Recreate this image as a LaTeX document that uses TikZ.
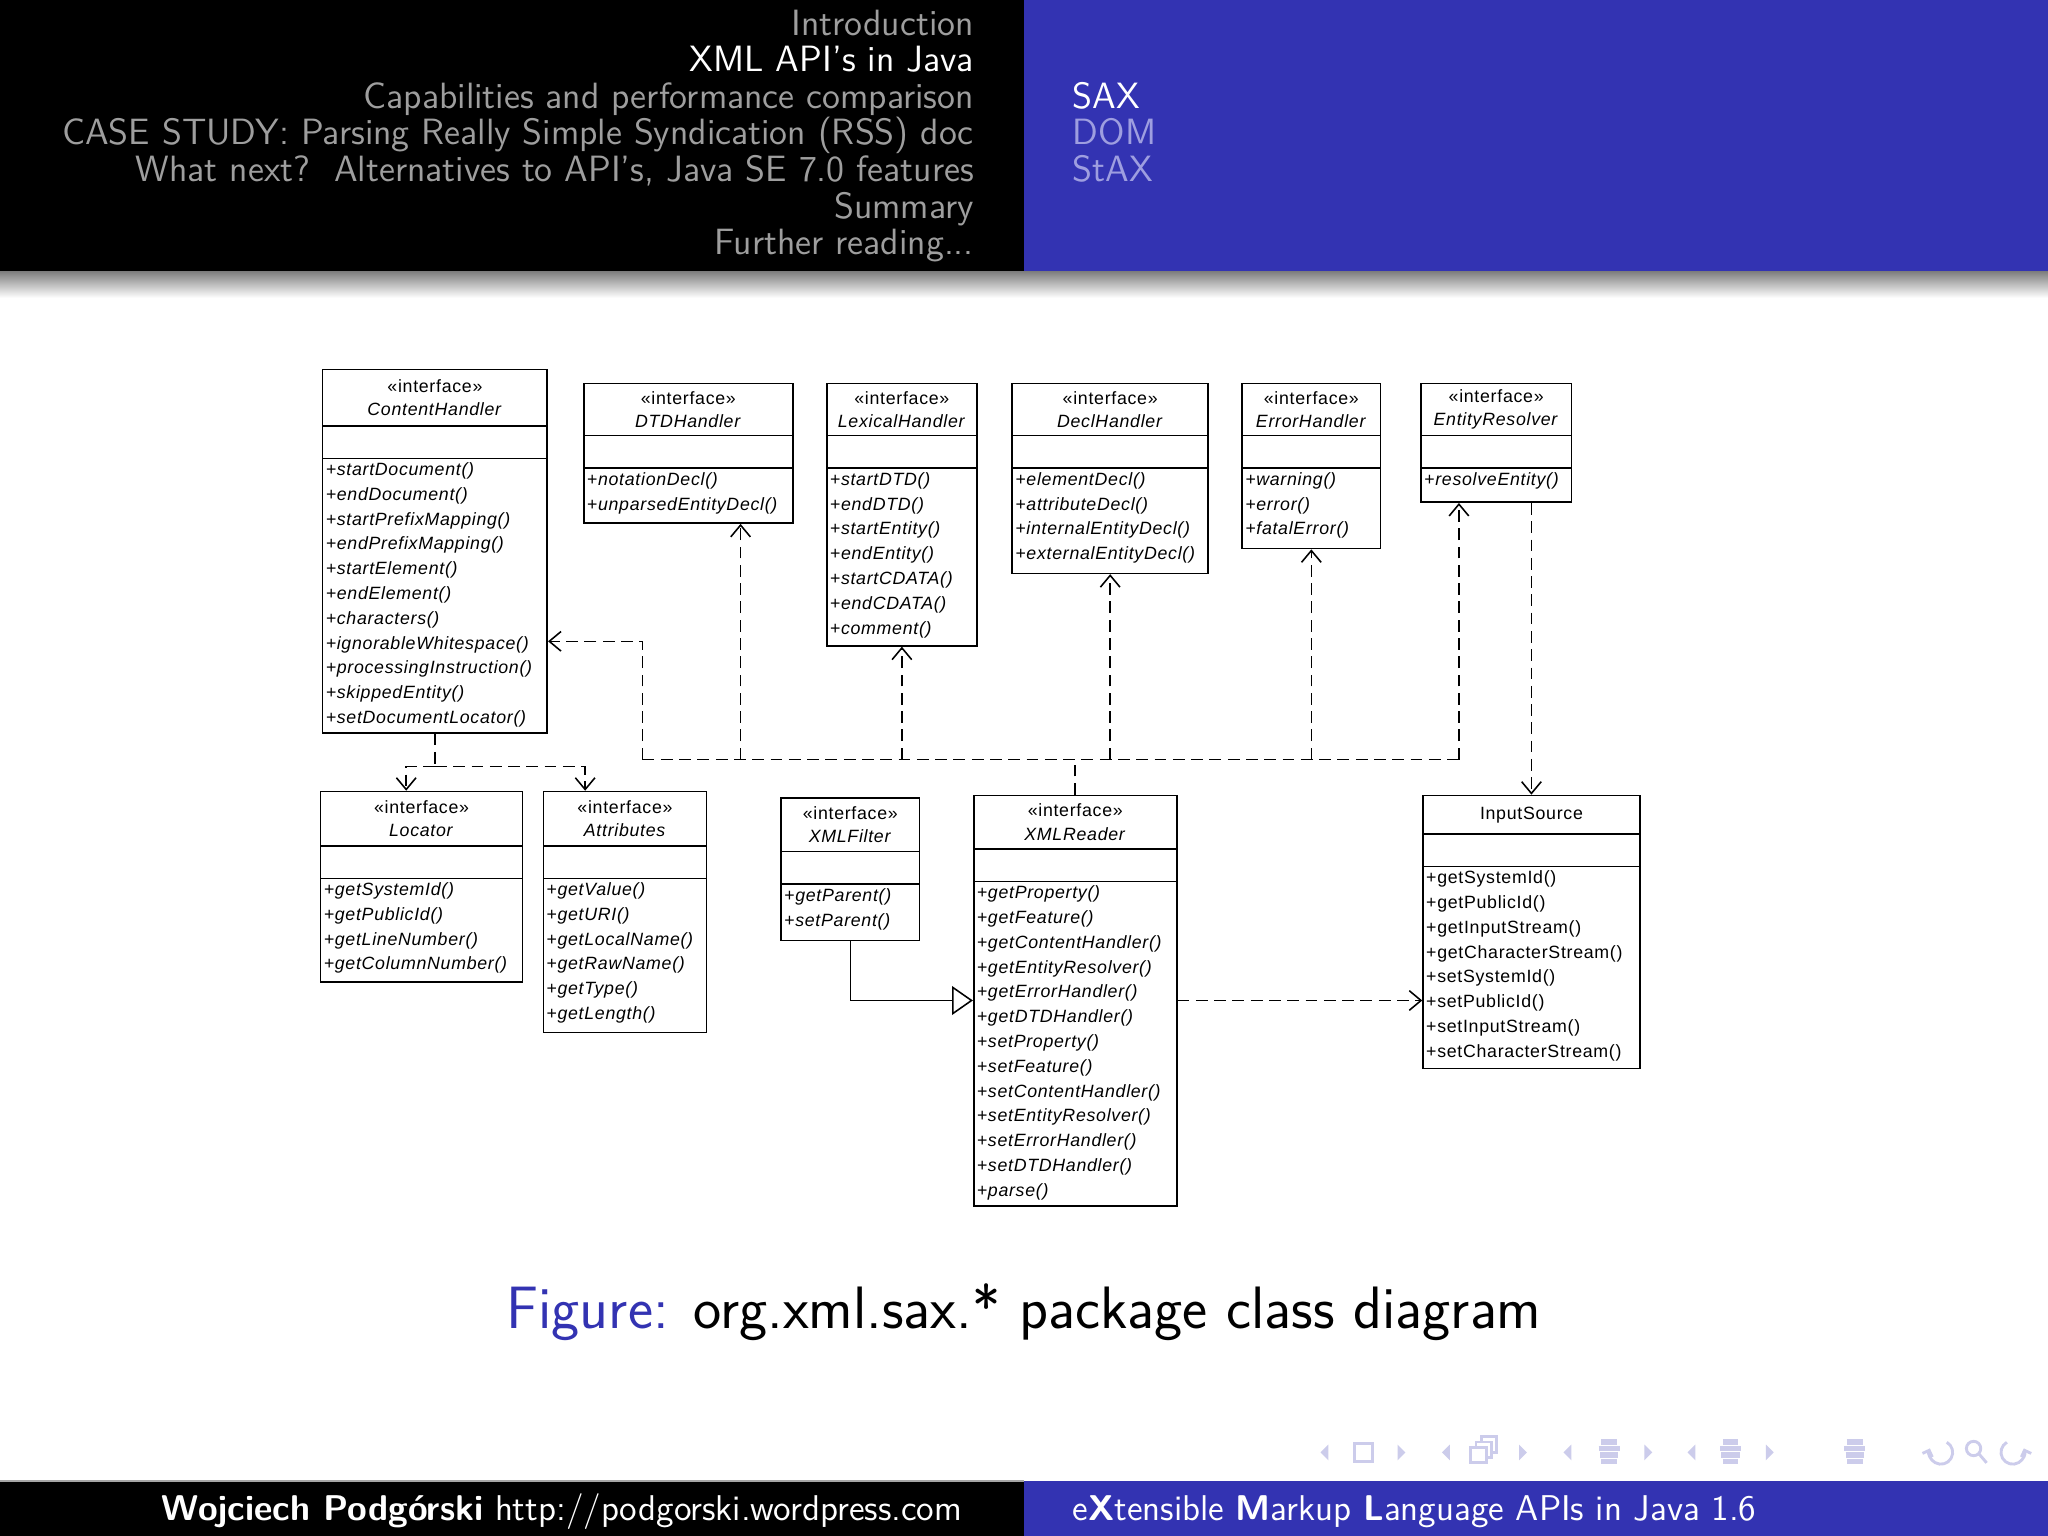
\documentclass[tikz,border=0pt]{standalone}
\usepackage{fontspec}
\usepackage[x11names,svgnames]{xcolor}
\usepackage{tikz}
\usetikzlibrary{arrows.meta,fit}

\newfontfamily\umlfont[LetterSpace=4.0]{Liberation Sans}
\definecolor{structblue}{rgb}{0.2,0.2,0.7}
\definecolor{headgray}{gray}{0.62}
\definecolor{sublight}{rgb}{0.62,0.62,0.88}
\definecolor{navgray}{rgb}{0.8,0.8,0.92}

\tikzset{
  umlbox/.style={draw, inner sep=0pt, line width=0.6pt},
  umltitle/.style={font=\umlfont\fontsize{6.8}{9}\selectfont, align=center, inner sep=0pt},
  umlop/.style={font=\umlfont\itshape\fontsize{6.8}{9.5}\selectfont, anchor=west, inner sep=0pt},
  umlopup/.style={font=\umlfont\fontsize{6.8}{9.5}\selectfont, anchor=west, inner sep=0pt},
  umldash/.style={line width=0.6pt, dash pattern=on 4.5pt off 2.5pt},
  depend/.style={umldash, -{Straight Barb[length=4.5pt,width=7.5pt,line width=0.6pt]}},
  inherit/.style={line width=0.6pt, -{Triangle[open,length=8pt,width=11pt,line width=0.6pt]}},
  headsec/.style={font=\sffamily\fontsize{14}{15}\selectfont, inner sep=0pt},
  footline/.style={font=\sffamily\fontsize{13.7}{14}\selectfont, inner sep=0pt, text=white},
}

% class box: [op style] name, x, y, width, height, header height, title, operations
\newcommand\umlclass[9][umlop]{%
  \node[umlbox, fit={(#3,#4) (#3+#5,#4+#6)}] (#2) {};
  \draw[line width=0.6pt] (#3,#4+#7) -- ++(#5,0) (#3,#4+#7+25) -- ++(#5,0);
  \node[umltitle] (#2-title) at (#3+#5/2,#4+#7/2) {#8};
  \foreach \op [count=\i] in {#9}
    \node[#1] (#2-op\i) at (#3+2,#4+#7+25+19*\i-9.5) {\op};
}

\begin{document}
\begin{tikzpicture}[x=0.5pt,y=-0.5pt]
  \useasboundingbox (0,0) rectangle (1568,1176);
  \fill[white] (0,0) rectangle (1568,1176);

  % headline
  \fill[black] (0,0) rectangle (784,208);
  \fill[structblue] (784,0) rectangle (1568,208);
  \shade[top color=black!50, bottom color=white] (0,208) rectangle (1568,228);
  \node[headsec, text=headgray, anchor=base east] (sec1) at (746,27) {Introduction};
  \node[headsec, text=white,    anchor=base east] (sec2) at (746,55) {XML API's in Java};
  \node[headsec, text=headgray, anchor=base east] (sec3) at (746,83) {Capabilities and performance comparison};
  \node[headsec, text=headgray, anchor=base east] (sec4) at (746,111) {CASE STUDY: Parsing Really Simple Syndication (RSS) doc};
  \node[headsec, text=headgray, anchor=base east] (sec5) at (746,139) {What next?\ \ Alternatives to API's, Java SE 7.0 features};
  \node[headsec, text=headgray, anchor=base east] (sec6) at (746,167) {Summary};
  \node[headsec, text=headgray, anchor=base east] (sec7) at (746,195) {Further reading...};
  \node[headsec, text=white,    anchor=base west] (sub1) at (821,83) {SAX};
  \node[headsec, text=sublight, anchor=base west] (sub2) at (821,111) {DOM};
  \node[headsec, text=sublight, anchor=base west] (sub3) at (821,139) {StAX};

  % classes
  \umlclass{ch}{247}{283}{172}{278}{43}{«interface»\\\textit{ContentHandler}}
    {+startDocument(),+endDocument(),+startPrefixMapping(),+endPrefixMapping(),+startElement(),+endElement(),+characters(),+ignorableWhitespace(),+processingInstruction(),+skippedEntity(),+setDocumentLocator()}
  \umlclass{dtd}{447}{293.5}{160}{107}{40}{«interface»\\\textit{DTDHandler}}
    {+notationDecl(),+unparsedEntityDecl()}
  \umlclass{lex}{633}{293.5}{115}{201}{40}{«interface»\\\textit{LexicalHandler}}
    {+startDTD(),+endDTD(),+startEntity(),+endEntity(),+startCDATA(),+endCDATA(),+comment()}
  \umlclass{decl}{775}{293.5}{150}{145.5}{40}{«interface»\\\textit{DeclHandler}}
    {+elementDecl(),+attributeDecl(),+internalEntityDecl(),+externalEntityDecl()}
  \umlclass{err}{951}{293.5}{106}{126.5}{40}{«interface»\\\textit{ErrorHandler}}
    {+warning(),+error(),+fatalError()}
  \umlclass{ent}{1088}{293.5}{115}{91}{40}{«interface»\\\textit{EntityResolver}}
    {+resolveEntity()}
  \umlclass{loc}{245.5}{606}{154.5}{146}{41.5}{«interface»\\\textit{Locator}}
    {+getSystemId(),+getPublicId(),+getLineNumber(),+getColumnNumber()}
  \umlclass{attr}{416}{606}{125}{184.5}{41.5}{«interface»\\\textit{Attributes}}
    {+getValue(),+getURI(),+getLocalName(),+getRawName(),+getType(),+getLength()}
  \umlclass{filt}{598}{611}{106}{109}{41}{«interface»\\\textit{XMLFilter}}
    {+getParent(),+setParent()}
  \umlclass{rdr}{745.5}{609}{155.5}{314.5}{41}{«interface»\\\textit{XMLReader}}
    {+getProperty(),+getFeature(),+getContentHandler(),+getEntityResolver(),+getErrorHandler(),+getDTDHandler(),+setProperty(),+setFeature(),+setContentHandler(),+setEntityResolver(),+setErrorHandler(),+setDTDHandler(),+parse()}
  \umlclass[umlopup]{inp}{1089.5}{609}{166}{209}{29.5}{InputSource}
    {+getSystemId(),+getPublicId(),+getInputStream(),+getCharacterStream(),+setSystemId(),+setPublicId(),+setInputStream(),+setCharacterStream()}

  % ContentHandler uses Locator and Attributes
  \coordinate (chfork) at (333,587);
  \draw[umldash] (ch.south) -- (chfork);
  \draw[depend] (chfork) -| (loc.north -| 311,0);
  \draw[depend] (chfork) -| (attr.north -| 448,0);

  % XMLReader uses the handlers
  \coordinate (busL) at (492,581.5);
  \coordinate (busR) at (1117,581.5);
  \draw[umldash] (busL) -- (busR);
  \draw[umldash] (rdr.north) -- (rdr.north |- busL);
  \draw[depend] (busL) |- (ch.east |- 0,491);
  \draw[depend] (busL -| 567,0) -- (dtd.south -| 567,0);
  \draw[depend] (busL -| lex.south) -- (lex.south);
  \draw[depend] (busL -| decl.south) -- (decl.south);
  \draw[depend] (busL -| err.south) -- (err.south);
  \draw[depend] (busR) -- (ent.south -| busR);
  \draw[depend] (inp.north |- ent.south) -- (inp.north);

  % XMLFilter extends XMLReader, XMLReader uses InputSource
  \draw[inherit] (filt.south) |- (rdr.west |- 0,766);
  \draw[depend] (rdr.east |- 0,766) -- (inp.west |- 0,766);

  % caption
  \node[font=\sffamily\fontsize{22.9}{25}\selectfont, inner sep=0pt, anchor=base] (cap) at (784,1017)
    {\textcolor{structblue}{Figure:} org.xml.sax.* package class diagram};

  % navigation symbols
  \foreach \x in {1014,1107,1200,1295}
    \fill[navgray] (\x+3,1106) -- (\x-3,1112) -- (\x+3,1118) -- cycle;
  \foreach \x in {1073,1166,1262,1355}
    \fill[navgray] (\x-3,1106) -- (\x+3,1112) -- (\x-3,1118) -- cycle;
  \draw[navgray, line width=1.2pt] (1037,1105) rectangle (1051,1119);
  \foreach \d in {8,4,0}
    \filldraw[navgray, fill=white, line width=1.1pt] (1126+\d,1108-\d) rectangle (1138+\d,1120-\d);
  \foreach \x in {1232,1325,1420}
    \foreach \yy/\w in {1104/6,1109/8,1114/7,1119/6}
      \draw[navgray, line width=2pt] (\x-\w,\yy) -- (\x+\w,\yy);
  \draw[navgray, line width=1.1pt, -{Straight Barb[length=2pt,width=4pt]}]
    (1486,1112) ++(-60:9) arc[start angle=-60, end angle=200, radius=9];
  \draw[navgray, line width=1.1pt] (1511,1109) circle[radius=5.5] (1515,1113) -- (1521,1120);
  \draw[navgray, line width=1.1pt, -{Straight Barb[length=2pt,width=4pt]}]
    (1541,1112) ++(240:9) arc[start angle=240, end angle=-20, radius=9];

  % footline
  \fill[black] (0,1134) rectangle (784,1176);
  \fill[structblue] (784,1134) rectangle (1568,1176);
  \draw[gray!70, line width=0.6pt] (0,1134) -- (784,1134);
  \node[footline, anchor=base east] (auth) at (737,1164)
    {\textbf{Wojciech Podgórski} http://podgorski.wordpress.com};
  \node[footline, anchor=base west] (title) at (821,1164)
    {e\textbf{X}tensible \textbf{M}arkup \textbf{L}anguage APIs in Java 1.6};
\end{tikzpicture}
\end{document}
